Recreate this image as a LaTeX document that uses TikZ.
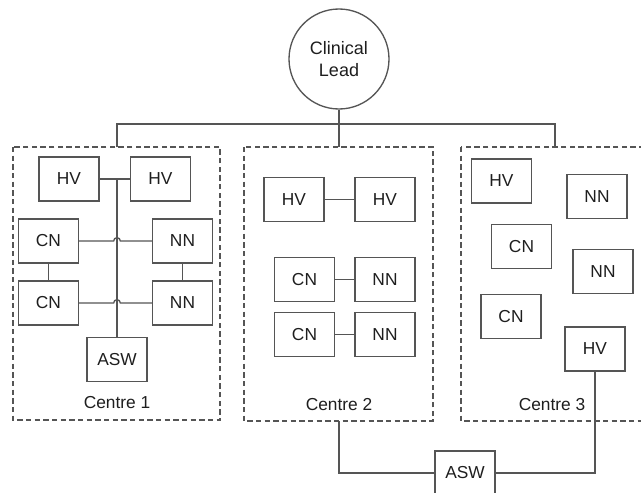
\documentclass[tikz,border=0pt]{standalone}
\usepackage{fontspec}
\setmainfont{Liberation Sans}
\usepackage{tikz}
\definecolor{lineGray}{RGB}{85,85,85}
\definecolor{textGray}{RGB}{30,30,30}

\tikzset{
  role/.style={draw=lineGray, line width=1pt, minimum width=45pt, minimum height=33pt,
    inner sep=0pt, text=textGray, font=\fontsize{13}{15}\selectfont},
  centre/.style={draw=lineGray, line width=1pt, dash pattern=on 4pt off 2.5pt},
  link/.style={draw=lineGray, line width=1pt},
  caption/.style={text=textGray, font=\fontsize{13}{15}\selectfont}
}

\begin{document}
\begin{tikzpicture}[x=0.75pt, y=-0.75pt]
                \useasboundingbox (0,0) rectangle (641,492);
                \clip (0,0) rectangle (641,492);

                % Lead
                \node[draw=lineGray, line width=1pt, circle, minimum size=75pt, inner sep=0pt,
                  text=textGray, align=center, font=\fontsize{13.5}{16}\selectfont]
                  (lead) at (339,59) {Clinical\\Lead};

                % Centres
                \draw[centre] (13,147) rectangle (220,420);
                \draw[centre] (244,147) rectangle (433,421);
                \draw[centre] (461,147) rectangle (660,421);
                \node[caption] (lbl1) at (117,403) {Centre 1};
                \node[caption] (lbl2) at (339,405) {Centre 2};
                \node[caption] (lbl3) at (552,405) {Centre 3};
                \coordinate (top1) at (117,147);
                \coordinate (top2) at (339,147);
                \coordinate (top3) at (555,147);
                \coordinate (bar) at (339,124);
                \coordinate (bot2) at (339,421);

                % Centre 1
                \node[role] (hv1a) at (69,179) {HV};
                \node[role] (hv1b) at (160.5,179) {HV};
                \node[role] (cn1a) at (48.5,241) {CN};
                \node[role] (nn1a) at (182.5,241) {NN};
                \node[role] (cn1b) at (48.5,303) {CN};
                \node[role] (nn1b) at (182.5,303) {NN};
                \node[role] (asw1) at (117,359.5) {ASW};

                % Centre 2
                \node[role] (hv2a) at (294,199.5) {HV};
                \node[role] (hv2b) at (385,199.5) {HV};
                \node[role] (cn2a) at (304.5,279.5) {CN};
                \node[role] (nn2a) at (385,279.5) {NN};
                \node[role] (cn2b) at (304.5,334.5) {CN};
                \node[role] (nn2b) at (385,334.5) {NN};

                % Centre 3
                \node[role] (hv3a) at (501.5,181) {HV};
                \node[role] (nn3a) at (597,196.5) {NN};
                \node[role] (cn3a) at (521.5,246.5) {CN};
                \node[role] (nn3b) at (603,271.5) {NN};
                \node[role] (cn3b) at (511,316.5) {CN};
                \node[role] (hv3b) at (595,349) {HV};

                % Shared ASW
                \node[role] (asw) at (465,473) {ASW};

                % Lead links
                \draw[link] (lead) -- (top2);
                \draw[link] (top1) -- (top1 |- bar) -| (top3);

                % Centre 1 links
                \coordinate (hop1) at (asw1 |- cn1a);
                \coordinate (hop2) at (asw1 |- cn1b);
                \draw[link] (hv1a) -- (hv1b);
                \draw[link] (asw1) -- (asw1 |- hv1a);
                \draw[link] (cn1a) -- ([xshift=-2.5pt]hop1) arc[start angle=180, end angle=0, radius=2.5pt] -- (nn1a);
                \draw[link] (cn1b) -- ([xshift=-2.5pt]hop2) arc[start angle=180, end angle=0, radius=2.5pt] -- (nn1b);
                \draw[link] (cn1a) -- (cn1b);
                \draw[link] (nn1a) -- (nn1b);

                % Centre 2 links
                \draw[link] (hv2a) -- (hv2b);
                \draw[link] (cn2a) -- (nn2a);
                \draw[link] (cn2b) -- (nn2b);

                % ASW links
                \draw[link] (bot2) |- (asw);
                \draw[link] (hv3b) |- (asw);
\end{tikzpicture}
\end{document}
